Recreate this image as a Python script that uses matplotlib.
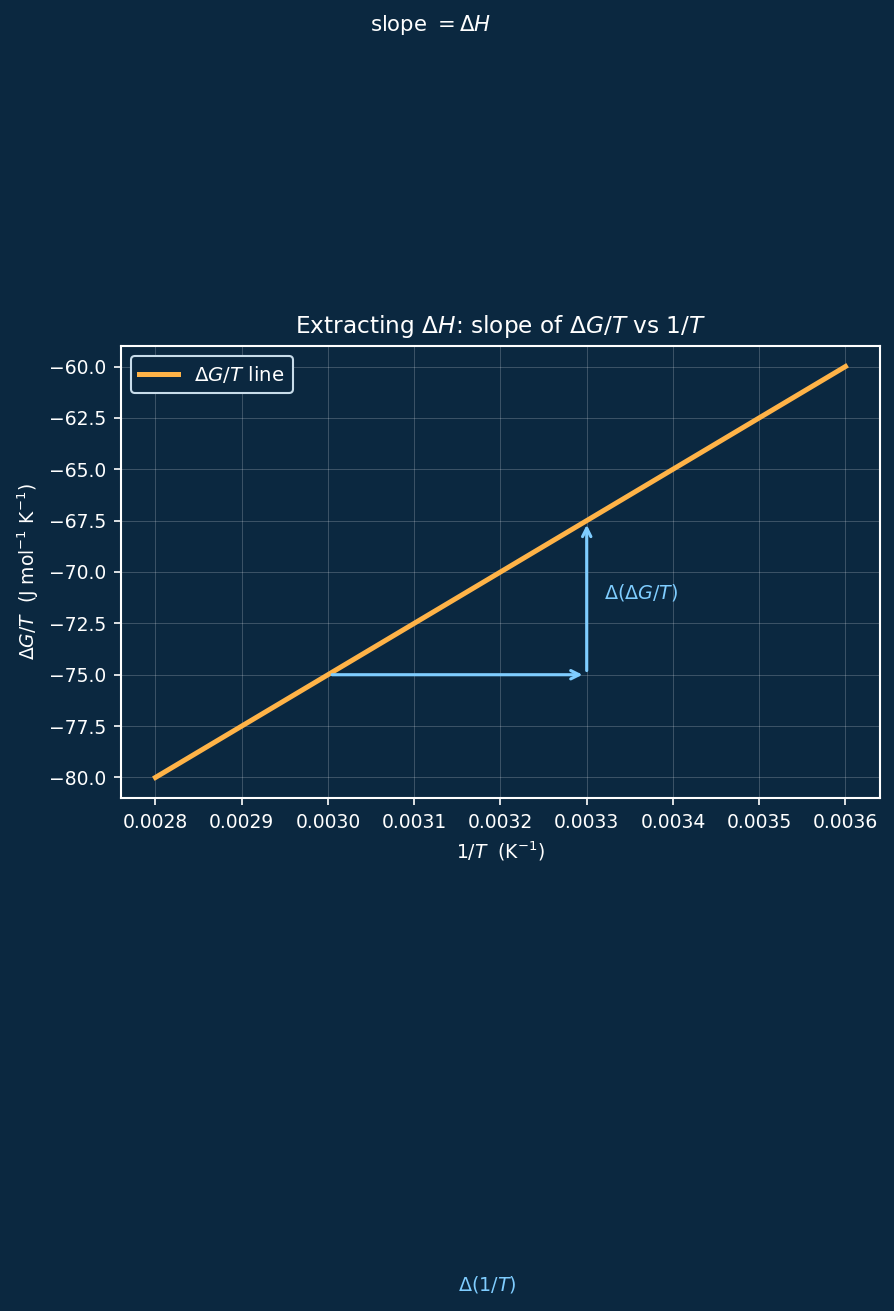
import numpy as np
import matplotlib
matplotlib.use("Agg")
import matplotlib.pyplot as plt

# data
inv_T = [0.0028, 0.0036]
dG_over_T = [-80.0, -60.0]
run_x = [0.0030, 0.0033]
run_y = -75.0
rise_y = [-75.0, -67.5]

BG = "#0b2840"
ORANGE = "#ffb347"
BLUE = "#7fcdff"

plt.rcParams["font.family"] = ["DejaVu Sans"]

fig = plt.figure(figsize=(5.96, 8.74), dpi=150, facecolor=BG)
ax = fig.add_axes([0.1353, 0.3913, 0.849, 0.3448])
ax.set_facecolor(BG)

ax.plot(inv_T, dG_over_T, color=ORANGE, lw=2.4, label=r"$\Delta G/T$ line")

ax.annotate("", xy=(run_x[1], run_y), xytext=(run_x[0], run_y),
            arrowprops=dict(arrowstyle="->", color=BLUE, lw=1.5))
ax.annotate("", xy=(run_x[1], rise_y[1]), xytext=(run_x[1], rise_y[0]),
            arrowprops=dict(arrowstyle="->", color=BLUE, lw=1.5))

ax.text(0.00332, -71.0, r"$\Delta(\Delta G/T)$", color=BLUE, fontsize=9.2,
        va="center", ha="left")
ax.text(0.003185, -104.7, r"$\Delta(1/T)$", color=BLUE, fontsize=9.2,
        va="center", ha="center", clip_on=False)
ax.text(0.003119, -43.4, r"slope $= \Delta H$", color="white", fontsize=10.2,
        va="center", ha="center", clip_on=False)

ax.set_title(r"Extracting $\Delta H$: slope of $\Delta G/T$ vs $1/T$",
             color="white", fontsize=11.2)
ax.set_xlabel(r"$1/T$  (K$^{-1}$)", color="white", fontsize=9)
ax.set_ylabel(r"$\Delta G/T$  (J mol$^{-1}$ K$^{-1}$)", color="white", fontsize=9)

ax.tick_params(colors="white", labelsize=9)
for s in ax.spines.values():
    s.set_color("white")
    s.set_linewidth(1.0)
ax.grid(True, color="white", alpha=0.2, lw=0.5)

leg = ax.legend(loc="upper left", fontsize=9.5, facecolor=BG, edgecolor="#c8dcea",
                framealpha=1.0)
for t in leg.get_texts():
    t.set_color("white")

fig.savefig("out.png", dpi=150, facecolor=BG)
